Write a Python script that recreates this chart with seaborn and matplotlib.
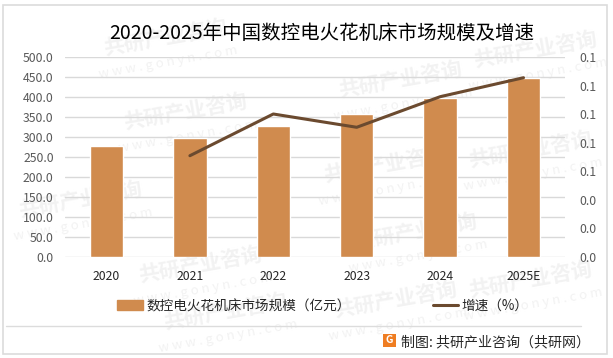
import seaborn as sns
import matplotlib.pyplot as plt
import pandas as pd
from matplotlib.lines import Line2D
from matplotlib.patches import Patch, Rectangle

years = ['2020', '2021', '2022', '2023', '2024', '2025E']
market_size = [277.5, 297.5, 327.5, 357.5, 397.5, 447.5]
growth = [None, 0.0709, 0.1001, 0.0908, 0.1122, 0.1255]
size_ticks = [0, 50, 100, 150, 200, 250, 300, 350, 400, 450, 500]
growth_ticks = [0, 0.02, 0.04, 0.06, 0.08, 0.10, 0.12, 0.14]

title = '2020-2025年中国数控电火花机床市场规模及增速'
size_label = '数控电火花机床市场规模（亿元）'
growth_label = '增速（%）'
source = '制图: 共研产业咨询（共研网）'
mark_text = '共研产业咨询'
mark_url = 'w w w . g o n y n . c o m'
# watermark centres in pixels
mark_x = [165, 185, 400, 535, 385, 200, 80, 225, 415, 530, 395, 530]
mark_y = [38, 112, 80, 50, 165, 265, 200, 312, 232, 150, 300, 280]

sns.set_theme(style='white')
plt.rcParams['font.family'] = ['Noto Sans CJK SC', 'DejaVu Sans']

W, H = 613, 358
fig = plt.figure(figsize=(W / 100, H / 100), dpi=100)
fig.patch.set_facecolor('white')

def px(x, y):
    return x / W, 1 - y / H

# outer frame and footer rule
fig.add_artist(Rectangle(px(2.5, 354), 604.5 / W, 349 / H, fill=False, ec='#dcdcdc', lw=1.2))
fig.add_artist(Line2D([6 / W, 581 / W], [1 - 325.5 / H] * 2, color='#dcdcdc', lw=1))

# watermark
for x, y in zip(mark_x, mark_y):
    fx, fy = px(x, y)
    fig.text(fx, fy, mark_text, fontsize=15, fontweight='bold', color='#f2f2f2', rotation=10,
             ha='center', va='center', zorder=-1)
    ux, uy = px(x + 3, y + 24)
    fig.text(ux, uy, mark_url, fontsize=9.5, color='#f2f2f2', rotation=10,
             ha='center', va='center', zorder=-1)

df = pd.DataFrame({'year': years, 'size': market_size, 'growth': growth})

ax = fig.add_axes([64.8 / W, 1 - 257 / H, 500.4 / W, 200 / H])
ax.patch.set_alpha(0)
sns.barplot(data=df, x='year', y='size', color='#d08b4e', saturation=1, width=0.4, ax=ax, zorder=3)
ax.set_xlim(-0.5, 5.5)
ax.set_ylim(0, 500)
ax.set_yticks(size_ticks)
ax.set_yticklabels([f'{v:.1f}' for v in size_ticks], fontsize=8.8, color='#595959')
ax.set_xticks(range(len(years)))
ax.set_xticklabels(years, fontsize=8.8, color='#262626')
ax.tick_params(axis='x', length=0, pad=9)
ax.tick_params(axis='y', length=0, pad=8)
ax.grid(axis='y', color='#d9d9d9', lw=1)
ax.set_axisbelow(True)
ax.set_xlabel('')
ax.set_ylabel('')
sns.despine(ax=ax, left=True, right=True, top=True, bottom=True)

ax2 = ax.twinx()
sns.lineplot(data=df, x='year', y='growth', color='#6b4a2f', lw=2.2, sort=False, ax=ax2, zorder=4)
ax2.set_ylim(0, 0.14)
ax2.set_yticks(growth_ticks)
ax2.set_yticklabels([f'{v:.1f}' for v in growth_ticks], fontsize=8.8, color='#595959')
ax2.tick_params(axis='y', length=0, pad=10)
ax2.set_xlabel('')
ax2.set_ylabel('')
ax2.grid(False)
sns.despine(ax=ax2, left=True, right=True, top=True, bottom=True)

fig.text(*px(322, 33), title, fontsize=14, color='black', ha='center', va='center')

handles = [Patch(color='#d08b4e'), Line2D([], [], color='#6b4a2f', lw=2.2)]
fig.legend(handles, [size_label, growth_label], loc='center', bbox_to_anchor=px(323, 306), ncol=2,
           frameon=False, fontsize=9.8, columnspacing=6.0, handlelength=1.9, handleheight=0.7,
           handletextpad=0.25, labelcolor='#262626')

# logo and source line
fig.add_artist(Rectangle(px(383, 347), 13 / W, 13 / H, fc='#ef7d22', ec='none'))
fig.text(*px(389.5, 340), 'G', fontsize=7.5, fontweight='bold', color='white', ha='center', va='center')
fig.text(*px(401, 342), source, fontsize=10.1, color='#262626', ha='left', va='center')

plt.savefig('out.png', dpi=100)
